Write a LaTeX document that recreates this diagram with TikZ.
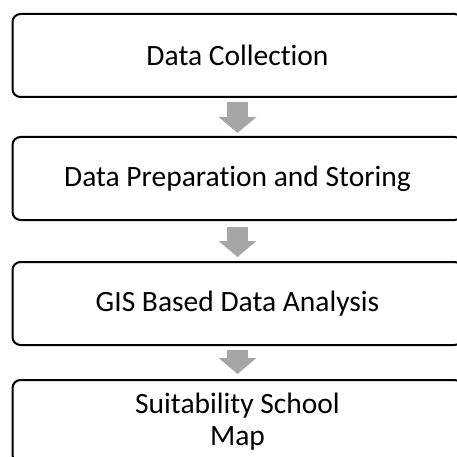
\documentclass[tikz,border=0pt]{standalone}
\usepackage{fontspec}
\setmainfont[Ligatures=NoCommon]{Carlito}
\usetikzlibrary{positioning,arrows.meta}
\definecolor{flowgray}{RGB}{166,166,166}
\tikzset{
	stage/.style={draw=black, line width=2pt, rounded corners=8pt, minimum width=450pt, minimum height=83pt, inner sep=0pt, outer sep=0pt, align=center, font=\fontsize{29.5}{32}\selectfont},
	flow/.style={draw=flowgray, line width=21pt, -{Triangle[width=37pt,length=16pt]}}
}

\begin{document}
\begin{tikzpicture}
			%%%%% START %%%%%
			
			\useasboundingbox (0pt, 0pt) rectangle (457pt, -457pt);
			\fill[white] (0pt, 0pt) rectangle (457pt, -457pt);
			\clip (0pt, 0pt) rectangle (457pt, -457pt);
			
			\node[stage] (collect) at (237.5pt, -55.5pt) {Data Collection};
			\node[stage, below=40pt of collect] (prepare) {Data Preparation and Storing};
			\node[stage, below=42pt of prepare] (analysis) {GIS Based Data Analysis};
			\node[stage, below=35pt of analysis] (schoolmap) {Suitability School\\Map};
			
			\draw[flow, shorten <=5pt, shorten >=4pt] (collect) -- (prepare);
			\draw[flow, shorten <=7pt, shorten >=5pt] (prepare) -- (analysis);
			\draw[flow, shorten <=5pt, shorten >=6pt] (analysis) -- (schoolmap);
			
			%%%%% END %%%%%
		\end{tikzpicture}
\end{document}
